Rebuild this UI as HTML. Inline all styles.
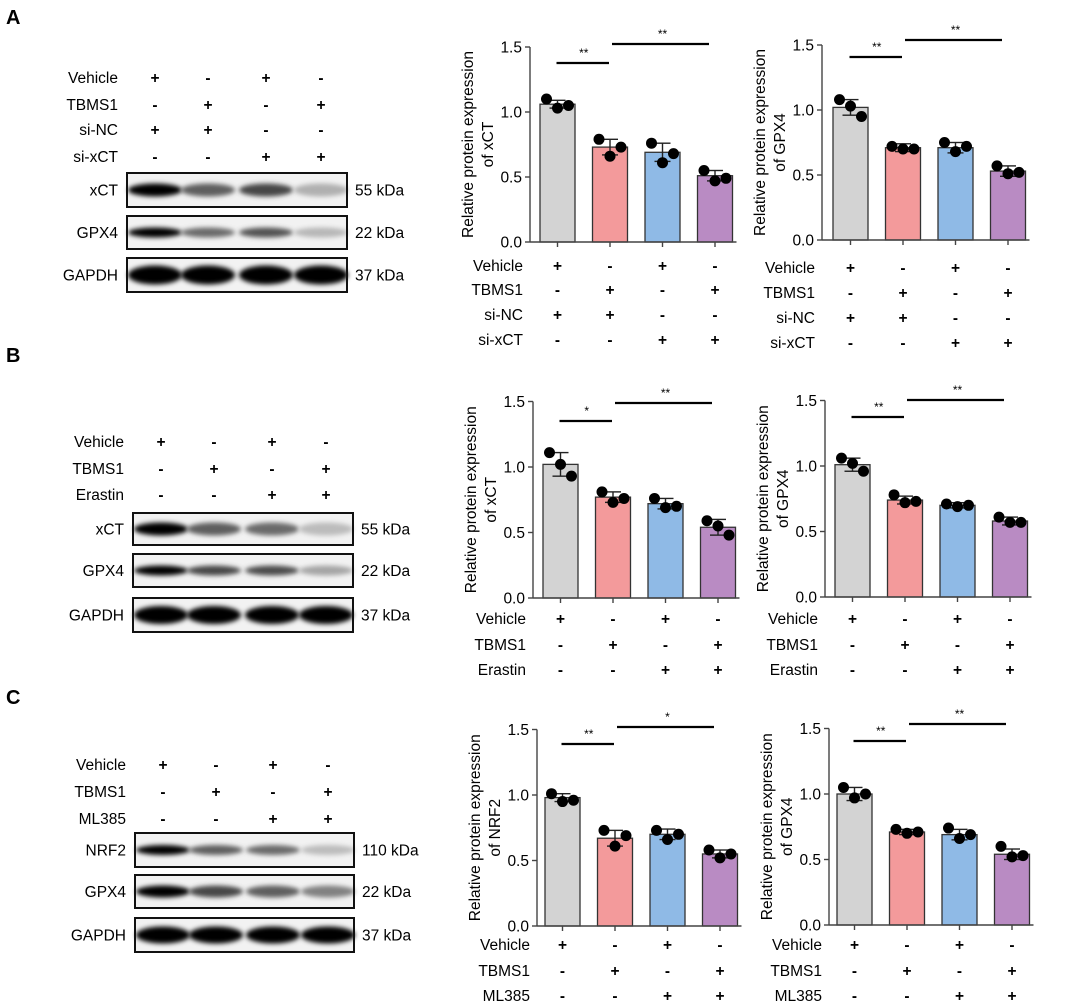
<!DOCTYPE html>
<html><head><meta charset="utf-8"><style>
body{margin:0;background:#fff}
svg{display:block;font-family:"Liberation Sans",Arial,sans-serif}
</style></head><body>
<svg id="fig" width="1065" height="1003" viewBox="0 0 1065 1003" xmlns="http://www.w3.org/2000/svg">
<defs>
<filter id="blur" x="-30%" y="-100%" width="160%" height="300%"><feGaussianBlur stdDeviation="2.4"/></filter>
</defs>
<text x="6" y="24" font-size="20" font-weight="bold">A</text>
<text x="6" y="362" font-size="20" font-weight="bold">B</text>
<text x="6" y="704" font-size="20" font-weight="bold">C</text>
</svg>
<script>
const NS='http://www.w3.org/2000/svg';
const svg=document.getElementById('fig');
function mk(tag,attrs,parent){const e=document.createElementNS(NS,tag);for(const k in attrs)e.setAttribute(k,attrs[k]);(parent||svg).appendChild(e);return e;}
function txt(x,y,s,size,anchor,parent){const t=mk('text',{x:x,y:y,'font-size':size,'text-anchor':anchor||'start'},parent);t.textContent=s;return t;}

// ---- data ----
const groups=['Vehicle','TBMS1','si-NC/Erastin/ML385','combo'];
const colors=['#d3d3d3','#f39a9b','#8fbae6','#b98bc3'];
const a1Means=[1.06,0.73,0.69,0.51];
const a1Err=[0.03,0.06,0.07,0.04];
const a1Dots=[[1.10,1.03,1.05],[0.79,0.66,0.73],[0.76,0.61,0.68],[0.55,0.47,0.49]];
const a2Means=[1.02,0.71,0.71,0.53];
const a2Err=[0.06,0.03,0.04,0.04];
const a2Dots=[[1.08,1.03,0.95],[0.72,0.70,0.70],[0.75,0.68,0.72],[0.57,0.51,0.52]];
const b1Means=[1.02,0.77,0.72,0.54];
const b1Err=[0.09,0.04,0.04,0.06];
const b1Dots=[[1.11,1.02,0.93],[0.81,0.73,0.76],[0.76,0.69,0.70],[0.59,0.55,0.48]];
const b2Means=[1.01,0.74,0.70,0.58];
const b2Err=[0.05,0.03,0.02,0.03];
const b2Dots=[[1.06,1.02,0.96],[0.78,0.72,0.73],[0.71,0.69,0.70],[0.61,0.57,0.57]];
const c1Means=[0.98,0.67,0.70,0.55];
const c1Err=[0.03,0.06,0.04,0.03];
const c1Dots=[[1.01,0.95,0.96],[0.73,0.61,0.69],[0.73,0.66,0.70],[0.58,0.52,0.55]];
const c2Means=[1.00,0.71,0.69,0.54];
const c2Err=[0.05,0.02,0.04,0.04];
const c2Dots=[[1.05,0.97,1.00],[0.73,0.70,0.71],[0.74,0.66,0.69],[0.60,0.52,0.53]];
const yTicks=[0,0.5,1.0,1.5];
const yTickLabels=['0.0','0.5','1.0','1.5'];
const rowsA=[['Vehicle','+','-','+','-'],['TBMS1','-','+','-','+'],['si-NC','+','+','-','-'],['si-xCT','-','-','+','+']];
const rowsB=[['Vehicle','+','-','+','-'],['TBMS1','-','+','-','+'],['Erastin','-','-','+','+']];
const rowsC=[['Vehicle','+','-','+','-'],['TBMS1','-','+','-','+'],['ML385','-','-','+','+']];
const sigA1=['**','**'],sigA2=['**','**'],sigB1=['*','**'],sigB2=['**','**'],sigC1=['**','*'],sigC2=['**','**'];

function chart(o){
  const g=mk('g',{});
  
  
  const y=v=>o.y0-v*o.unit;
  const pitch=52.5,bw=35;
  const cx=i=>o.bar0+i*pitch+bw/2;
  o.means.forEach((m,i)=>{
    const r=mk('rect',{x:o.bar0+i*pitch,y:y(m),width:bw,height:o.y0-y(m),fill:colors[i],stroke:'#333','stroke-width':1.3},g);
    
    
  });
  o.means.forEach((m,i)=>{
    const e=mk('g',{stroke:'#222','stroke-width':1.4},g);
    
    
    const t=y(m+o.err[i]),b=y(m-o.err[i]);
    mk('line',{x1:cx(i),x2:cx(i),y1:t,y2:b},e);
    mk('line',{x1:cx(i)-8,x2:cx(i)+8,y1:t,y2:t},e);
    mk('line',{x1:cx(i)-8,x2:cx(i)+8,y1:b,y2:b},e);
  });
  const offs=[-11,0,11];
  o.dots.forEach((arr,i)=>arr.forEach((v,j)=>{
    const c=mk('circle',{cx:cx(i)+offs[j],cy:y(v),r:5.5,fill:'#000'},g);
    
    
  }));
  const right=o.bar0+3*pitch+bw+4;
  const ax=mk('g',{stroke:'#444','stroke-width':1.4},g);
  
  
  mk('line',{x1:o.axisX,x2:o.axisX,y1:y(1.5),y2:o.y0},ax);
  mk('line',{x1:o.axisX,x2:right,y1:o.y0,y2:o.y0},ax);
  yTicks.forEach(v=>mk('line',{x1:o.axisX-5,x2:o.axisX,y1:y(v),y2:y(v)},ax));
  for(let i=0;i<4;i++)mk('line',{x1:cx(i),x2:cx(i),y1:o.y0,y2:o.y0+5},ax);
  yTicks.forEach((v,k)=>{const t=txt(o.axisX-8,y(v)+5.5,yTickLabels[k],15.5,'end',g);
    });
  const my=(y(1.5)+o.y0)/2;
  const t1=txt(0,0,'Relative protein expression',15.5,'middle',g);
  t1.setAttribute('transform',`translate(${o.axisX-57},${my}) rotate(-90)`);
  
  const t2=txt(0,0,'of '+o.protein,15.5,'middle',g);
  t2.setAttribute('transform',`translate(${o.axisX-37},${my}) rotate(-90)`);
  
  o.rows.forEach((row,r)=>{
    const yy=o.rowY[r];
    const l=txt(o.axisX-7,yy+5,row[0],15.5,'end',g);
    
    for(let i=0;i<4;i++){const s=txt(cx(i),yy+5,row[i+1],15.5,'middle',g);
      s.setAttribute('font-weight','bold');
      }
  });
  const sg=mk('g',{},g);
  
  
  const l1y=o.y0-o.s1,l2y=o.y0-o.s2;
  mk('line',{x1:cx(0)-1,x2:cx(1)-1,y1:l1y,y2:l1y,stroke:'#000','stroke-width':2.2},sg);
  txt((cx(0)+cx(1))/2,l1y-6,o.sig[0],12,'middle',sg);
  mk('line',{x1:cx(1)+2,x2:cx(3)-6,y1:l2y,y2:l2y,stroke:'#000','stroke-width':2.2},sg);
  txt((cx(1)+cx(3))/2,l2y-6,o.sig[1],12,'middle',sg);
}

chart({name:'chart-a-xct',axisX:530,y0:242,unit:130,bar0:540,means:a1Means,err:a1Err,dots:a1Dots,protein:'xCT',rows:rowsA,rowY:[266,290,315,340],s1:179,s2:198,sig:sigA1});
chart({name:'chart-a-gpx4',axisX:822,y0:240,unit:130,bar0:833,means:a2Means,err:a2Err,dots:a2Dots,protein:'GPX4',rows:rowsA,rowY:[268,293,318,343],s1:183,s2:200,sig:sigA2});
chart({name:'chart-b-xct',axisX:533,y0:598,unit:131,bar0:543,means:b1Means,err:b1Err,dots:b1Dots,protein:'xCT',rows:rowsB,rowY:[619,645,670],s1:177,s2:195,sig:sigB1});
chart({name:'chart-b-gpx4',axisX:825,y0:597,unit:131,bar0:835,means:b2Means,err:b2Err,dots:b2Dots,protein:'GPX4',rows:rowsB,rowY:[619,645,670],s1:180,s2:197,sig:sigB2});
chart({name:'chart-c-nrf2',axisX:537,y0:926,unit:131,bar0:545,means:c1Means,err:c1Err,dots:c1Dots,protein:'NRF2',rows:rowsC,rowY:[945,971,996],s1:182,s2:199,sig:sigC1});
chart({name:'chart-c-gpx4',axisX:829,y0:925,unit:131,bar0:837,means:c2Means,err:c2Err,dots:c2Dots,protein:'GPX4',rows:rowsC,rowY:[945,971,996],s1:184,s2:201,sig:sigC2});

// ---- blots ----
const blotA=[{label:'xCT',kda:'55 kDa',y:173,h:34,int:[1,0.6,0.7,0.25],bh:13},
             {label:'GPX4',kda:'22 kDa',y:216,h:33,int:[1,0.55,0.65,0.22],bh:10},
             {label:'GAPDH',kda:'37 kDa',y:258,h:34,int:[1,1,1,1],bh:19}];
const blotB=[{label:'xCT',kda:'55 kDa',y:513,h:32,int:[1,0.6,0.55,0.2],bh:13},
             {label:'GPX4',kda:'22 kDa',y:554,h:33,int:[1,0.7,0.68,0.3],bh:10},
             {label:'GAPDH',kda:'37 kDa',y:598,h:34,int:[1,1,1,1],bh:18}];
const blotC=[{label:'NRF2',kda:'110 kDa',y:833,h:34,int:[1,0.6,0.55,0.2],bh:10},
             {label:'GPX4',kda:'22 kDa',y:875,h:33,int:[1,0.7,0.6,0.45],bh:12},
             {label:'GAPDH',kda:'37 kDa',y:918,h:34,int:[1,1,1,1],bh:17}];
function blot(name,x0,x1,lanes,rows,rowY,rowsDef){
  const g=mk('g',{});
  
  
  rowsDef.forEach((row,r)=>{
    const l=txt(x0-9,rowY[r]+5,row[0],15.5,'end',g);
    
    for(let i=0;i<4;i++){const s=txt(x0+lanes[i],rowY[r]+5,row[i+1],15.5,'middle',g);
      s.setAttribute('font-weight','bold');
      }
  });
  rows.forEach(b=>{
    const bg=mk('g',{},g);
    
    
    mk('rect',{x:x0,y:b.y,width:x1-x0,height:b.h,fill:'#f2f2f2'},bg);
    b.int.forEach((v,i)=>{
      const gray=Math.round(235-235*v);
      mk('ellipse',{cx:x0+lanes[i],cy:b.y+b.h/2,rx:27,ry:b.bh/2,fill:`rgb(${gray},${gray},${gray})`,filter:'url(#blur)'},bg);
    });
    mk('rect',{x:x0,y:b.y,width:x1-x0,height:b.h,fill:'none',stroke:'#111','stroke-width':2},bg);
    txt(x0-9,b.y+b.h/2+5.5,b.label,15.5,'end',bg);
    txt(x1+8,b.y+b.h/2+5.5,b.kda,15.5,'start',bg);
  });
}
blot('western-blot-a',127,347,[28,81,139,194],blotA,[78,105,130,157],rowsA);
blot('western-blot-b',133,353,[28,81,139,193],blotB,[442,469,495],rowsB);
blot('western-blot-c',135,354,[28,81,138,193],blotC,[765,792,819],rowsC);
</script>
</body></html>
